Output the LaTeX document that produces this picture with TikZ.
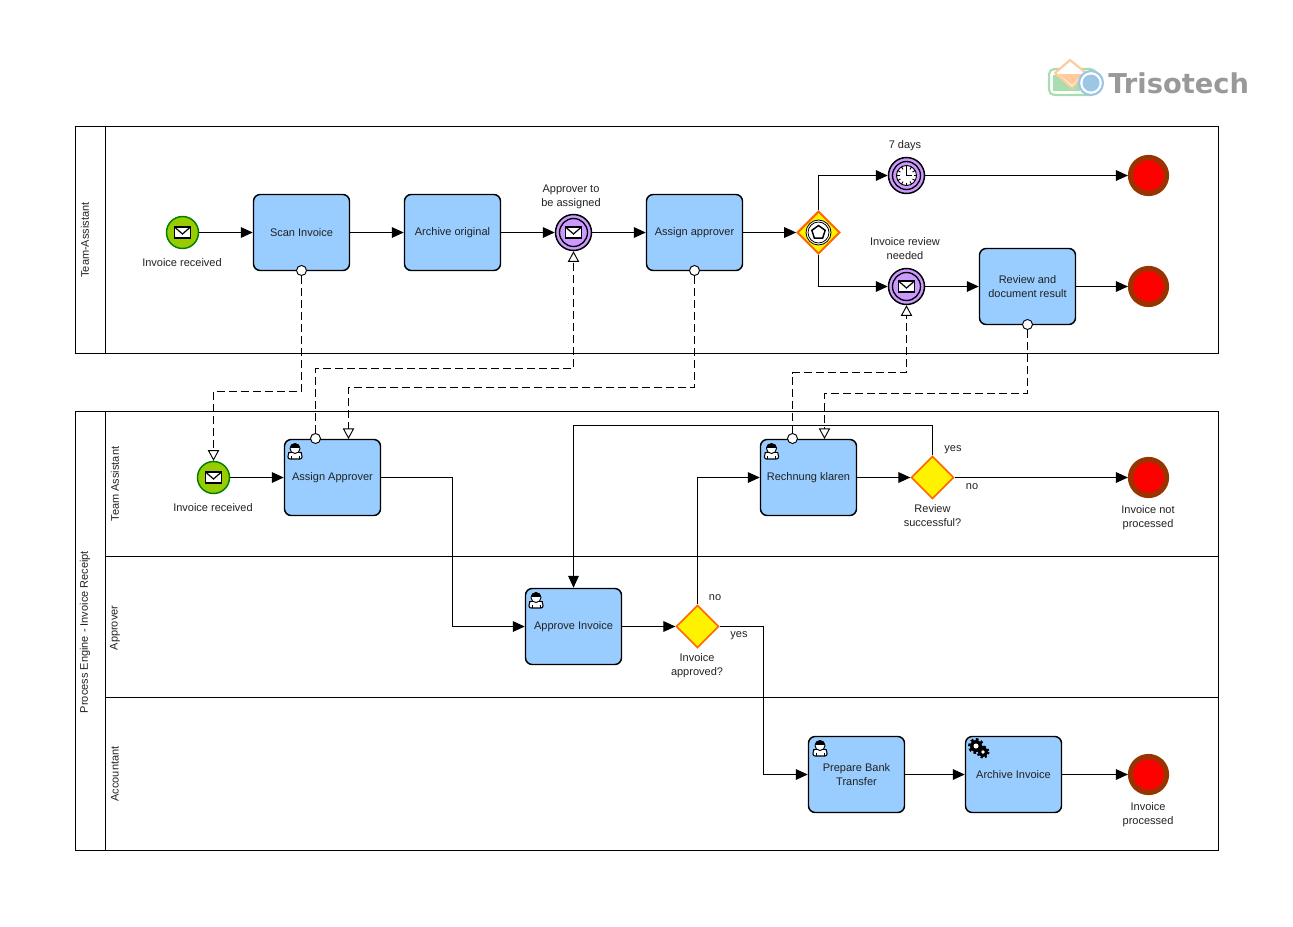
\documentclass[tikz,border=0pt]{standalone}
\usepackage{fontspec}
\setmainfont{Liberation Sans}
\newfontfamily\logofont{DejaVu Sans}
\usetikzlibrary{arrows.meta,shapes.geometric,calc}
\definecolor{taskblue}{HTML}{99CCFF}
\definecolor{startgreen}{HTML}{99CC00}
\definecolor{startedge}{HTML}{008000}
\definecolor{midpurple}{HTML}{CC99FF}
\definecolor{endbrown}{HTML}{993300}
\definecolor{gwedge}{HTML}{FF6600}
\definecolor{txt}{HTML}{222222}
\definecolor{logogreen}{HTML}{A9DDB0}
\definecolor{logoorange}{HTML}{FFCB9C}
\definecolor{logoblue}{HTML}{9CC6E4}
\definecolor{logogray}{HTML}{999999}
\tikzset{
  x=0.75pt,y=-0.75pt,
  every node/.style={font=\fontsize{8.25}{10.5}\selectfont,text=txt},
  tasknode/.style={rectangle,rounded corners=5pt,draw=black,fill=taskblue,line width=1.1pt,minimum width=72pt,minimum height=57pt,inner sep=0pt,align=center},
  startev/.style={circle,draw=startedge,fill=startgreen,line width=1.1pt,minimum size=24pt,inner sep=0pt},
  midev/.style={circle,draw=black,fill=midpurple,line width=1.1pt,minimum size=27pt,inner sep=0pt},
  endev/.style={circle,draw=endbrown,fill=red,line width=3.9pt,minimum size=27pt,inner sep=0pt},
  gateway/.style={diamond,draw=gwedge,fill=yellow,line width=1.2pt,minimum width=32pt,minimum height=32pt,inner sep=0pt},
  evgateway/.style={diamond,draw=gwedge,fill=yellow,line width=1.5pt,minimum width=32pt,minimum height=32pt,inner sep=0pt},
  lbl/.style={align=center,inner sep=0pt},
  lanelbl/.style={rotate=90,inner sep=0pt},
  seq/.style={line width=0.8pt,-{Triangle[length=9pt,width=8pt]}},
  msg/.style={line width=0.7pt,dash pattern=on 6pt off 3pt,-{Triangle[open,fill=white,length=8pt,width=8.5pt,line width=0.7pt]}},
  msgstart/.style={circle,draw=black,fill=white,line width=0.7pt,minimum size=7.5pt,inner sep=0pt},
  boxline/.style={line width=1.2pt},
  pics/envelope/.style={code={
    \draw[fill=white,line width=1pt] (-8,-5.5) rectangle (8,5.5);
    \draw[line width=0.9pt] (-8,-5.5) -- (0,1.5) -- (8,-5.5);
  }},
  pics/userico/.style={code={
    \draw[fill=white,line width=0.8pt,rounded corners=1.5pt] (-7,8) -- (-7,3.5) .. controls (-6,1) and (6,1) .. (7,3.5) -- (7,8) -- cycle;
    \draw[line width=0.6pt] (-4,4.5) -- (-4,8) (4,4.5) -- (4,8);
    \draw[fill=white,line width=0.7pt] (0,-2.5) circle (5);
    \fill[black] (-5.4,-3) .. controls (-5.4,-9) and (5.4,-9) .. (5.4,-3) -- cycle;
  }},
  pics/gearsico/.style={code={
    \fill[black] (-3,-3) circle (6);
    \draw[line width=2.2pt,dash pattern=on 1.9pt off 1.9pt] (-3,-3) circle (6.5);
    \fill[white] (-3,-3) circle (2.5);
    \fill[black] (4,3) circle (5);
    \draw[line width=2pt,dash pattern=on 1.6pt off 1.6pt] (4,3) circle (5.4);
    \fill[white] (4,3) circle (1.8);
  }},
  pics/clockico/.style={code={
    \draw[fill=white,line width=0.7pt] (0,0) circle (10);
    \foreach \a in {0,30,...,330}{\draw[line width=0.7pt] (\a:7) -- (\a:10);}
    \draw[line width=0.7pt] (0,-6.5) -- (0,0) -- (5,0);
  }},
}
\begin{document}
\begin{tikzpicture}
\useasboundingbox (0,0) rectangle (1293,926);
\fill[white] (0,0) rectangle (1293,926);

% logo
\draw[draw=logogreen,fill=white,line width=1.6pt,rounded corners=4pt] (1049,69) rectangle (1096,95);
\fill[logogreen] (1053,75) rectangle (1080,91);
\draw[draw=logoorange,fill=white,line width=1.6pt,line join=round] (1070,60) -- (1086,73) -- (1072,88) -- (1055,73) -- cycle;
\fill[logoorange] (1058,74) -- (1083,74) -- (1072,85) -- cycle;
\draw[draw=logoblue,fill=white,line width=1.6pt] (1091,83) circle (12);
\fill[logoblue] (1091,83) circle (8.5);
\node[anchor=base west,inner sep=0pt,text=logogray] (logotext) at (1108,93) {\fontsize{20.5}{21}\selectfont\logofont\bfseries Trisotech};

% pools
\draw[boxline] (75.5,126.5) rectangle (1218.5,353.5);
\draw[boxline] (105.5,126.5) -- (105.5,353.5);
\draw[boxline] (75.5,411.5) rectangle (1218.5,850.5);
\draw[boxline] (105.5,411.5) -- (105.5,850.5);
\draw[boxline] (105.5,556.5) -- (1218.5,556.5);
\draw[boxline] (105.5,697.5) -- (1218.5,697.5);
\node[lanelbl] (poolA) at (85,240) {Team-Assistant};
\node[lanelbl] (poolB) at (85,632) {Process Engine - Invoice Receipt};
\node[lanelbl] (laneA) at (115,484) {Team Assistant};
\node[lanelbl] (laneB) at (115,628) {Approver};
\node[lanelbl] (laneC) at (115,774) {Accountant};

% tasks
\node[tasknode] (scan) at (301.5,232.5) {Scan Invoice};
\node[tasknode] (archo) at (452.5,232.5) {Archive original};
\node[tasknode] (assignT) at (694.5,232.5) {Assign approver};
\node[tasknode] (review) at (1027.5,286.5) {Review and\\document result};
\node[tasknode] (assignA) at (332.5,477.5) {Assign Approver};
\node[tasknode] (rech) at (808.5,477.5) {Rechnung klaren};
\node[tasknode] (approve) at (573.5,626.5) {Approve Invoice};
\node[tasknode] (prep) at (856.5,774.5) {Prepare Bank\\Transfer};
\node[tasknode] (archi) at (1013.5,774.5) {Archive Invoice};

% events
\node[startev] (st1) at (182.5,232.5) {};
\node[startev] (st2) at (213.5,477.5) {};
\node[midev] (mid1) at (573.5,232.5) {};
\node[midev] (timer) at (906.5,175.5) {};
\node[midev] (mid2) at (906.5,286.5) {};
\node[endev] (end1) at (1148.5,175.5) {};
\node[endev] (end2) at (1148.5,286.5) {};
\node[endev] (end3) at (1148.5,477.5) {};
\node[endev] (end4) at (1148.5,774.5) {};
\foreach \n in {mid1,timer,mid2}{\draw[line width=1pt] (\n) circle (14);}

% gateways
\node[evgateway] (gwE) at (818.5,232.5) {};
\draw[line width=0.6pt,fill=white] (gwE) circle (12.5);
\draw[line width=0.6pt] (gwE) circle (10.5);
\draw[line width=1.1pt,fill=white] ($(gwE)+(90:-7)$) -- ($(gwE)+(162:-7)$) -- ($(gwE)+(234:-7)$) -- ($(gwE)+(306:-7)$) -- ($(gwE)+(18:-7)$) -- cycle;
\node[gateway] (gwR) at (932.5,477.5) {};
\node[gateway] (gwI) at (697.5,626.5) {};

% icons
\pic at (st1) {envelope};
\pic at (st2) {envelope};
\pic at (mid1) {envelope};
\pic at (mid2) {envelope};
\pic at (timer) {clockico};
\pic at (295,451) {userico};
\pic at (771.5,451) {userico};
\pic at (536,600) {userico};
\pic at (820,748) {userico};
\pic at (979,749) {gearsico};

% sequence flows
\draw[seq] (st1) -- (scan);
\draw[seq] (scan) -- (archo);
\draw[seq] (archo) -- (mid1);
\draw[seq] (mid1) -- (assignT);
\draw[seq] (assignT) -- (gwE);
\draw[seq] (gwE.north) |- (timer);
\draw[seq] (gwE.south) |- (mid2);
\draw[seq] (timer) -- (end1);
\draw[seq] (mid2) -- (review);
\draw[seq] (review) -- (end2);
\draw[seq] (st2) -- (assignA);
\coordinate (bendA) at (452.5,477.5);
\coordinate (bendB) at (452.5,626.5);
\draw[seq] (assignA.east) -- (bendA) -- (bendB) -- (approve.west);
\draw[seq] (approve) -- (gwI);
\draw[seq] (gwI.north) |- (rech.west);
\draw[seq] (rech) -- (gwR);
\draw[seq] (gwR.east) -- (end3.west);
\coordinate (loopA) at (573.5,425.5);
\draw[seq] (gwR.north) |- (loopA) -- (approve.north);
\coordinate (bendC) at (763.5,626.5);
\coordinate (bendD) at (763.5,774.5);
\draw[seq] (gwI.east) -- (bendC) -- (bendD) -- (prep.west);
\draw[seq] (prep) -- (archi);
\draw[seq] (archi) -- (end4);

% message flows
\node[msgstart] (m1) at (301.5,270.5) {};
\node[msgstart] (m2) at (315.5,438.5) {};
\node[msgstart] (m3) at (694.5,270.5) {};
\node[msgstart] (m4) at (792.5,438.5) {};
\node[msgstart] (m5) at (1027.5,324.5) {};
\coordinate (f1) at (213.5,391.5);
\draw[msg] (m1.south) |- (f1) -- (st2.north);
\coordinate (f2) at (573.5,368.5);
\draw[msg] (m2.north) |- (f2) -- (mid1.south);
\coordinate (f3) at (348.5,387.5);
\coordinate (t3) at (348.5,439);
\draw[msg] (m3.south) |- (f3) -- (t3);
\coordinate (f4) at (906.5,372.5);
\draw[msg] (m4.north) |- (f4) -- (mid2.south);
\coordinate (f5) at (824.5,393.5);
\coordinate (t5) at (824.5,439);
\draw[msg] (m5.south) |- (f5) -- (t5);

% labels
\node[lbl] (l1) at (182,263) {Invoice received};
\node[lbl] (l2) at (571,196.5) {Approver to\\be assigned};
\node[lbl] (l3) at (905,146) {7 days};
\node[lbl] (l4) at (905,249) {Invoice review\\needed};
\node[lbl] (l5) at (213,508) {Invoice received};
\node[lbl] (l6) at (932.5,515.5) {Review\\successful?};
\node[lbl] (l7) at (953,449.5) {yes};
\node[lbl] (l8) at (972,487) {no};
\node[lbl] (l9) at (1148,517.5) {Invoice not\\processed};
\node[lbl] (l10) at (715,597.5) {no};
\node[lbl] (l11) at (739,636) {yes};
\node[lbl] (l12) at (697,665.5) {Invoice\\approved?};
\node[lbl] (l13) at (1148,814.5) {Invoice\\processed};
\end{tikzpicture}
\end{document}
